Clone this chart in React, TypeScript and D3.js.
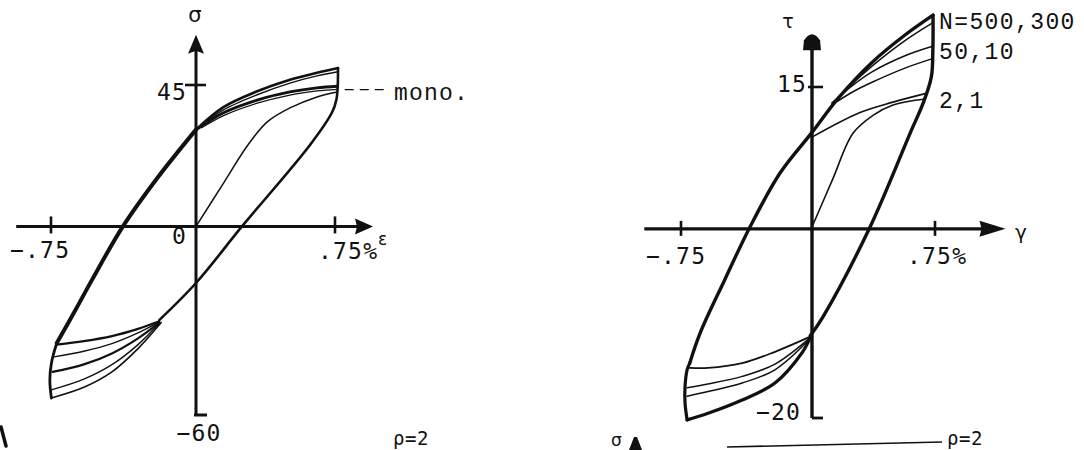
import React from 'react';
import * as d3 from 'd3';

type Pt = [number, number];

// ---------- Left panel: σ (stress) vs ε (%) ----------
const leftXTicks = [-0.75, 0.75];
const leftXTickLabels = ['−.75', '.75%'];
const leftYTicks = [45, -60];
const leftYTickLabels = ['45', '−60'];

const leftLoading: Pt[] = [[-0.72, -37.1], [-0.62, -26.2], [-0.538, -17.0], [-0.378, 0], [-0.2, 15.4], [0, 30.8]];
const leftTopA: Pt[] = [[0, 30.8], [0.146, 37.9], [0.33, 43.0], [0.507, 46.7], [0.653, 48.9], [0.766, 50.4]];
const leftTopB: Pt[] = [[0.03, 32.0], [0.146, 37.0], [0.33, 41.9], [0.507, 45.6], [0.653, 47.9], [0.766, 49.2]];
const leftMidA: Pt[] = [[0, 30.7], [0.146, 36.1], [0.33, 40.2], [0.507, 42.8], [0.653, 44.1], [0.762, 44.6]];
const leftMidB: Pt[] = [[0.03, 31.4], [0.146, 35.2], [0.33, 39.2], [0.507, 41.8], [0.653, 43.1], [0.762, 43.6]];
const leftMono: Pt[] = [[0, 0], [0.14, 13.0], [0.28, 25.9], [0.383, 33.2], [0.507, 37.7], [0.653, 41.2], [0.762, 42.8]];
const leftUnload: Pt[] = [[0.766, 50.4], [0.765, 45.0], [0.758, 40.5], [0.735, 36.4], [0.615, 25.9], [0.248, 0], [0, -18.0], [-0.19, -29.8]];
const leftLow1: Pt[] = [[-0.19, -30.2], [-0.3, -32.6], [-0.435, -34.9], [-0.58, -36.5], [-0.72, -37.6]];
const leftLow2: Pt[] = [[-0.19, -30.4], [-0.3, -33.9], [-0.435, -37.3], [-0.58, -39.7], [-0.735, -41.5]];
const leftLow3: Pt[] = [[-0.19, -30.6], [-0.3, -35.6], [-0.435, -40.4], [-0.58, -43.9], [-0.742, -46.3]];
const leftLow4: Pt[] = [[-0.19, -30.8], [-0.3, -37.6], [-0.435, -44.0], [-0.58, -48.6], [-0.748, -52.0]];
const leftLow5: Pt[] = [[-0.18, -30.6], [-0.3, -38.9], [-0.435, -46.3], [-0.58, -51.2], [-0.748, -54.6]];
const leftEdge: Pt[] = [[-0.748, -54.6], [-0.756, -49.0], [-0.748, -43.5], [-0.72, -37.1]];

// ---------- Right panel: τ (shear stress) vs γ (%) ----------
const rightXTicks = [-0.75, 0.75];
const rightXTickLabels = ['−.75', '.75%'];
const rightYTicks = [15, -20];
const rightYTickLabels = ['15', '−20'];
const cycleLabels = ['N=500,300', '50,10', '2,1'];
const cycleLabelLevels = [22.5, 19.3, 14.2];

const rightLoading: Pt[] = [[-0.70, -14.2], [-0.64, -11.0], [-0.5, -5.4], [-0.355, 0.2], [-0.183, 5.9], [0, 10.2], [0.159, 13.8], [0.366, 17.6], [0.567, 20.5], [0.738, 22.6]];
const rightN300: Pt[] = [[0.2, 14.6], [0.366, 17.2], [0.567, 19.9], [0.738, 21.8]];
const rightN50: Pt[] = [[0.12, 13.3], [0.25, 15.2], [0.366, 16.6], [0.567, 18.3], [0.735, 19.3]];
const rightN10: Pt[] = [[0.12, 13.1], [0.25, 14.5], [0.366, 15.5], [0.567, 17.0], [0.735, 18.0]];
const rightN2: Pt[] = [[0, 9.7], [0.293, 12.3], [0.494, 13.4], [0.69, 14.3]];
const rightMono: Pt[] = [[0, 0.2], [0.125, 5.2], [0.25, 10.1], [0.372, 12.0], [0.494, 13.1], [0.68, 13.7]];
const rightUnload: Pt[] = [[0.738, 22.6], [0.737, 19.0], [0.728, 16.1], [0.68, 13.4], [0.598, 10.1], [0.354, 0.2], [0.067, -9.3], [-0.01, -11.3]];
const rightLow1: Pt[] = [[-0.01, -11.4], [-0.212, -13.0], [-0.4, -14.2], [-0.595, -14.7], [-0.70, -14.7]];
const rightLow2: Pt[] = [[-0.01, -11.5], [-0.212, -14.3], [-0.4, -15.6], [-0.595, -16.4], [-0.715, -16.8]];
const rightLow3: Pt[] = [[-0.01, -11.6], [-0.212, -14.9], [-0.4, -16.3], [-0.595, -17.2], [-0.715, -17.7]];
const rightLow4: Pt[] = [[-0.01, -11.5], [-0.057, -13.1], [-0.212, -16.3], [-0.4, -18.1], [-0.595, -19.5], [-0.715, -20.2]];
const rightEdge: Pt[] = [[-0.715, -20.2], [-0.727, -18.4], [-0.727, -16.7], [-0.715, -14.9], [-0.70, -14.2]];

const MONO = "'DejaVu Sans Mono', monospace";
const TYPE = "'Liberation Mono', 'DejaVu Sans Mono', monospace";
const GREEK = "'DejaVu Sans', sans-serif";

export default function App() {
  const lx = d3.scaleLinear().domain([-0.75, 0, 0.75]).range([51, 196, 335]);
  const ly = d3.scaleLinear().domain([-60, 45]).range([415, 85]);
  const rx = d3.scaleLinear().domain([-0.75, 0, 0.75]).range([681, 812, 935]);
  const ry = d3.scaleLinear().domain([-20, 15]).range([418, 87]);

  const mk = (xs: any, ys: any) =>
    d3.line<Pt>().x(d => xs(d[0])).y(d => ys(d[1])).curve(d3.curveCatmullRom.alpha(0.5));
  const lLine = mk(lx, ly);
  const rLine = mk(rx, ry);

  const leftCurves = [
    { d: leftLoading, w: 4 }, { d: leftTopA, w: 2.6 }, { d: leftTopB, w: 1.4 },
    { d: leftMidA, w: 2.8 }, { d: leftMidB, w: 1.3 }, { d: leftMono, w: 1.5 },
    { d: leftUnload, w: 2.6 }, { d: leftLow1, w: 2.2 }, { d: leftLow2, w: 1.4 },
    { d: leftLow3, w: 2.2 }, { d: leftLow4, w: 1.4 }, { d: leftLow5, w: 1.6 },
    { d: leftEdge, w: 2.8 },
  ];
  const rightCurves = [
    { d: rightLoading, w: 3.4 }, { d: rightN300, w: 1.5 }, { d: rightN50, w: 1.5 },
    { d: rightN10, w: 1.5 }, { d: rightN2, w: 1.6 }, { d: rightMono, w: 1.6 },
    { d: rightUnload, w: 3.4 }, { d: rightLow1, w: 1.8 }, { d: rightLow2, w: 1.5 },
    { d: rightLow3, w: 1.5 }, { d: rightLow4, w: 3.2 }, { d: rightEdge, w: 3.2 },
  ];

  const lXa = [-0.93, 0.955];
  const lYa = [-60, 61];
  const rXa = [-0.96, 1.18];
  const rYa = [-20, 20.8];

  const lx0 = lx(0), ly0 = ly(0), rx0 = rx(0), ry0 = ry(0);

  const tick = { fontFamily: MONO, fontSize: 23, letterSpacing: 1.2, fill: '#111' } as const;

  return (
    <svg width={1084} height={450} style={{ position: 'absolute', left: 0, top: 0, background: '#fff' }}
      xmlns="http://www.w3.org/2000/svg">
      <rect width={1084} height={450} fill="#fff" />
      {/* ===== Left panel ===== */}
      <g stroke="#111" fill="none" strokeLinecap="round" strokeLinejoin="round">
        {leftCurves.map((c, i) => <path key={i} d={lLine(c.d) || ''} strokeWidth={c.w} />)}
      </g>
      <g stroke="#111" strokeWidth={3} fill="none">
        <line x1={lx(lXa[0])} x2={lx(lXa[1]) - 12} y1={ly0} y2={ly0} />
        <line x1={lx0} x2={lx0} y1={ly(lYa[0])} y2={ly(lYa[1]) + 12} />
        {leftXTicks.map((t, i) => <line key={i} x1={lx(t)} x2={lx(t)} y1={ly0 - 10} y2={ly0 + 7} strokeWidth={2.6} />)}
        <line x1={lx0 - 11} x2={lx0 + 10} y1={ly(leftYTicks[0])} y2={ly(leftYTicks[0])} strokeWidth={2.6} />
        <line x1={lx0 - 2} x2={lx0 + 11} y1={ly(leftYTicks[1])} y2={ly(leftYTicks[1])} strokeWidth={3} />
      </g>
      <path fill="#111" d={`M${lx(lXa[1])},${ly0} L${lx(lXa[1]) - 18},${ly0 - 8} L${lx(lXa[1]) - 16},${ly0} L${lx(lXa[1]) - 18},${ly0 + 8} Z`} />
      <path fill="#111" d={`M${lx0},${ly(lYa[1])} L${lx0 + 8},${ly(lYa[1]) + 19} L${lx0},${ly(lYa[1]) + 16} L${lx0 - 8},${ly(lYa[1]) + 19} Z`} />
      <text x={lx0 - 1} y={22} textAnchor="middle" fontFamily={GREEK} fontSize={21} fill="#111">σ</text>
      <text x={lx0 - 9} y={ly(leftYTicks[0]) + 15} textAnchor="end" {...tick}>{leftYTickLabels[0]}</text>
      <text x={lx0 + 3} y={441} textAnchor="middle" {...tick}>{leftYTickLabels[1]}</text>
      <text x={lx0 - 24} y={ly0 + 18} {...tick}>0</text>
      <text x={lx(leftXTicks[0]) - 41} y={ly0 + 32} {...tick}>{leftXTickLabels[0]}</text>
      <text x={lx(leftXTicks[1]) - 17} y={ly0 + 33} {...tick}>{leftXTickLabels[1]}</text>
      <text x={378} y={ly0 + 19} fontFamily={GREEK} fontSize={17} fill="#111">ε</text>
      <line x1={lx(0.77) + 6} x2={lx(0.77) + 50} y1={ly(43.5)} y2={ly(43.5)} stroke="#111" strokeWidth={1.3} strokeDasharray="9,6" />
      <text x={394} y={ly(43.5) + 10} fontFamily={TYPE} fontSize={23} letterSpacing={1.2} fill="#111">mono.</text>
      <text x={393} y={445} fontFamily={MONO} fontSize={19} letterSpacing={0.5} fill="#111">ρ=2</text>
      <path d="M1,427 L6,446" stroke="#111" strokeWidth={3.5} strokeLinecap="round" />

      {/* ===== Right panel ===== */}
      <g stroke="#111" fill="none" strokeLinecap="round" strokeLinejoin="round">
        {rightCurves.map((c, i) => <path key={i} d={rLine(c.d) || ''} strokeWidth={c.w} />)}
      </g>
      <g stroke="#111" strokeWidth={3.4} fill="none">
        <line x1={rx(rXa[0])} x2={rx(rXa[1]) - 14} y1={ry0} y2={ry0} />
        <line x1={rx0} x2={rx0} y1={ry(rYa[0])} y2={ry(rYa[1]) + 12} />
        {rightXTicks.map((t, i) => <line key={i} x1={rx(t)} x2={rx(t)} y1={ry0 - 8} y2={ry0 + 7} strokeWidth={2.6} />)}
        <line x1={rx0 - 4} x2={rx0 + 11} y1={ry(rightYTicks[0])} y2={ry(rightYTicks[0])} strokeWidth={2.6} />
        <line x1={rx0} x2={rx0 + 11} y1={ry(rightYTicks[1])} y2={ry(rightYTicks[1])} strokeWidth={2.8} />
      </g>
      <path fill="#111" d={`M${rx(rXa[1])},${ry0} L${rx(rXa[1]) - 26},${ry0 - 8} L${rx(rXa[1]) - 24},${ry0} L${rx(rXa[1]) - 26},${ry0 + 8} Z`} />
      <path fill="#111" d={`M${rx0 - 9},${ry(rYa[1]) + 18} L${rx0 - 8},${ry(rYa[1]) + 8} Q${rx0},${ry(rYa[1]) - 4} ${rx0 + 8},${ry(rYa[1]) + 8} L${rx0 + 9},${ry(rYa[1]) + 18} Z`} />
      <text x={rx0 - 24} y={28} textAnchor="middle" fontFamily={GREEK} fontSize={19} fill="#111">τ</text>
      <text x={1021} y={ry0 + 10} textAnchor="middle" fontFamily={GREEK} fontSize={20} fill="#111">γ</text>
      <text x={rx0 - 35} y={ry(rightYTicks[0]) + 5} {...tick}>{rightYTickLabels[0]}</text>
      <text x={rx0 - 56} y={ry(rightYTicks[1]) + 2} {...tick}>{rightYTickLabels[1]}</text>
      <text x={rx(rightXTicks[0]) - 35} y={ry0 + 35} {...tick}>{rightXTickLabels[0]}</text>
      <text x={rx(rightXTicks[1]) - 28} y={ry0 + 35} {...tick}>{rightXTickLabels[1]}</text>
      {cycleLabels.map((s, i) => (
        <text key={i} x={939} y={ry(cycleLabelLevels[i]) + 13} fontFamily={TYPE} fontSize={23}
          letterSpacing={1.4} fill="#111">{s}</text>
      ))}
      <line x1={727} y1={447} x2={942} y2={442} stroke="#111" strokeWidth={1.6} />
      <text x={947} y={445} fontFamily={MONO} fontSize={19} letterSpacing={0.5} fill="#111">ρ=2</text>
      <text x={611} y={446} fontFamily={GREEK} fontSize={17} fill="#111">σ</text>
      <path d="M629,450 L634,437 L637,437 L642,450 Z" fill="#111" />
    </svg>
  );
}
